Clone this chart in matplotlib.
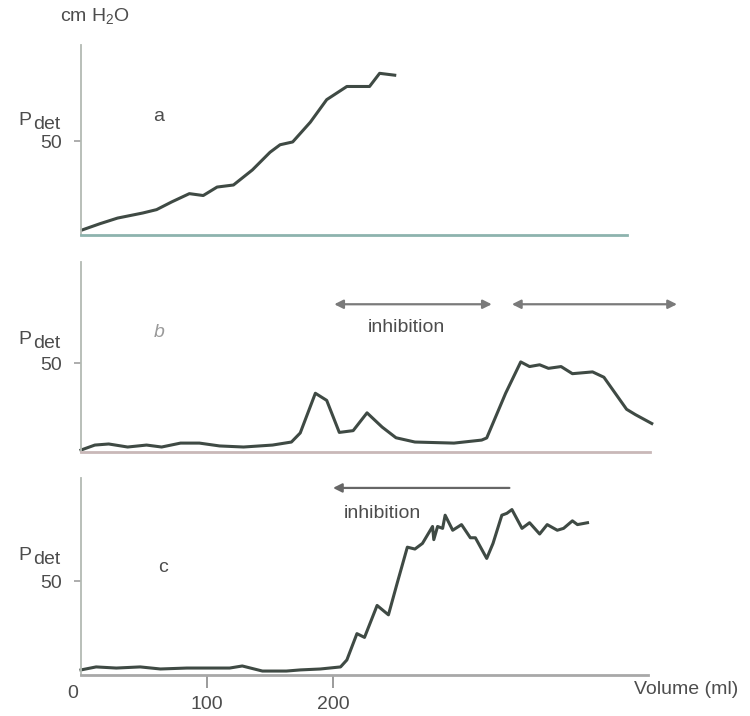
import matplotlib
matplotlib.use("Agg")
import matplotlib.pyplot as plt

# Trace a: steady rise
a_volume = [1, 15, 29, 49, 60, 72, 86, 97, 108, 121, 136, 150, 158, 168, 182, 195, 211, 229, 237, 249]
a_pdet = [2.7, 6, 9, 11.7, 13.5, 17.6, 22, 21, 25.5, 26.6, 34.6, 44, 48, 49.5, 60, 72, 79, 79, 86, 85]

# Trace b: two small waves, then a big contraction
b_volume = [0, 11, 22, 37, 52, 64, 79, 94, 110, 129, 152, 167, 174, 186, 195, 205, 216, 227,
            239, 250, 265, 296, 318, 322, 337, 349, 356, 364, 371, 381, 390, 406, 415, 421,
            433, 440, 453]
b_pdet = [1.1, 3.9, 4.5, 2.8, 3.9, 2.8, 5, 5, 3.4, 2.8, 3.9, 5.6, 10.7, 33, 29, 11, 12, 22,
          14, 8, 5.6, 5, 6.7, 7.9, 33, 50.6, 48, 49, 47, 48, 44, 45, 42, 36,
          24, 21, 16]

# Trace c: flat, then a sustained rise
c_volume = [0, 12, 28, 47, 63, 84, 105, 118, 128, 144, 163, 174, 190, 206, 211, 219, 225, 235,
            244, 251, 259, 265, 271, 279, 280, 283, 287, 289, 295, 302, 309, 313, 322, 327,
            334, 338, 342, 350, 356, 364, 370, 378, 383, 390, 394, 402]
c_pdet = [2.7, 4.3, 3.7, 4.3, 3.2, 3.7, 3.7, 3.7, 4.8, 2.1, 2.1, 2.7, 3.2, 4.3, 8, 22, 20, 37,
          32, 49, 68, 67, 70, 79, 72, 79, 78, 85, 77, 80, 73, 73, 62, 70,
          85, 86, 88, 78, 81, 75, 80, 77, 78, 82, 80, 81]

# Inhibition ranges (ml)
b_inhibition = (201, 326)
b_second_range = (342, 473)
c_inhibition = (200, 340)

x_ticks = [100, 200]

plt.rcParams["font.family"] = ["Liberation Sans", "DejaVu Sans"]
plt.rcParams["mathtext.fontset"] = "custom"
plt.rcParams["mathtext.rm"] = "Liberation Sans"
plt.rcParams["mathtext.it"] = "Liberation Sans"

W, H = 750, 716
PX_PER_ML = 1.26
TXT = "#4d4d4d"
LINE = "#3f4a44"

fig = plt.figure(figsize=(W / 100, H / 100), dpi=100)


def make_axes(left, base, right, top, px_per_unit, bottom_color):
    # positions in pixels of the original figure
    ax = fig.add_axes([left / W, (H - base) / H, (right - left) / W, (base - top) / H])
    ax.set_xlim(0, (right - left) / PX_PER_ML)
    ax.set_ylim(0, (base - top) / px_per_unit)
    for s in ("top", "right"):
        ax.spines[s].set_visible(False)
    ax.spines["left"].set_color("#b3bab3")
    ax.spines["left"].set_linewidth(1.3)
    ax.spines["bottom"].set_color(bottom_color)
    ax.spines["bottom"].set_linewidth(2)
    ax.set_yticks([50])
    ax.set_yticklabels(["50"])
    ax.tick_params(axis="y", direction="out", length=5, width=1.2, color="#a0a0a0",
                   labelsize=14, labelcolor=TXT, pad=9)
    ax.set_xticks([])
    ax.patch.set_alpha(0)
    return ax


def pdet_label(y_px):
    fig.text(18 / W, 1 - y_px / H, "P", fontsize=14, color=TXT, va="baseline")
    fig.text(33 / W, 1 - (y_px + 4) / H, "det", fontsize=14, color=TXT, va="baseline")


ax_a = make_axes(81, 235, 627, 45, 1.88, "#8db3ae")
ax_b = make_axes(81, 452, 650, 262, 1.78, "#c9b8b8")
ax_c = make_axes(81, 675, 648, 478, 1.88, "#a8a8a8")

for ax, xs, ys in ((ax_a, a_volume, a_pdet), (ax_b, b_volume, b_pdet), (ax_c, c_volume, c_pdet)):
    ax.plot(xs, ys, color=LINE, lw=2.2, solid_joinstyle="round", clip_on=False)

# panel letters
ax_a.text(62, 63, "a", fontsize=14, color=TXT, ha="center", va="center")
ax_b.text(62, 67, "b", fontsize=14, color="#9a9a9a", ha="center", va="center", style="italic")
ax_c.text(65, 57, "c", fontsize=14, color=TXT, ha="center", va="center")

# inhibition arrows
arrow = dict(arrowstyle="<|-|>", color="#7a7a7a", lw=1.6, mutation_scale=13, shrinkA=0, shrinkB=0)
ax_b.annotate("", xy=(b_inhibition[1], 83), xytext=(b_inhibition[0], 83), arrowprops=arrow,
              annotation_clip=False)
ax_b.annotate("", xy=(b_second_range[1], 83), xytext=(b_second_range[0], 83), arrowprops=arrow,
              annotation_clip=False)
ax_b.text(258, 70, "inhibition", fontsize=14, color=TXT, ha="center", va="center")

ax_c.annotate("", xy=(c_inhibition[0], 99.5), xytext=(c_inhibition[1], 99.5),
              arrowprops=dict(arrowstyle="-|>", color="#666666", lw=1.6, mutation_scale=13,
                              shrinkA=0, shrinkB=0),
              annotation_clip=False)
ax_c.text(239, 86, "inhibition", fontsize=14, color=TXT, ha="center", va="center")

# x ticks on bottom panel only
ax_c.set_xticks(x_ticks)
ax_c.set_xticklabels([str(t) for t in x_ticks])
ax_c.tick_params(axis="x", direction="out", length=9, width=1.2, color="#8a8a8a",
                 labelsize=14, labelcolor=TXT, pad=6)
fig.text(73 / W, 1 - 693 / H, "0", fontsize=14, color=TXT, ha="center", va="center")
fig.text(738 / W, 1 - 689 / H, "Volume (ml)", fontsize=14, color=TXT, ha="right", va="center")

# y labels
pdet_label(125)
pdet_label(344)
pdet_label(560)
fig.text(60 / W, 1 - 16 / H, r"cm H$_2$O", fontsize=14, color=TXT, ha="left", va="center")

fig.savefig("out.png", dpi=100, facecolor="white")
